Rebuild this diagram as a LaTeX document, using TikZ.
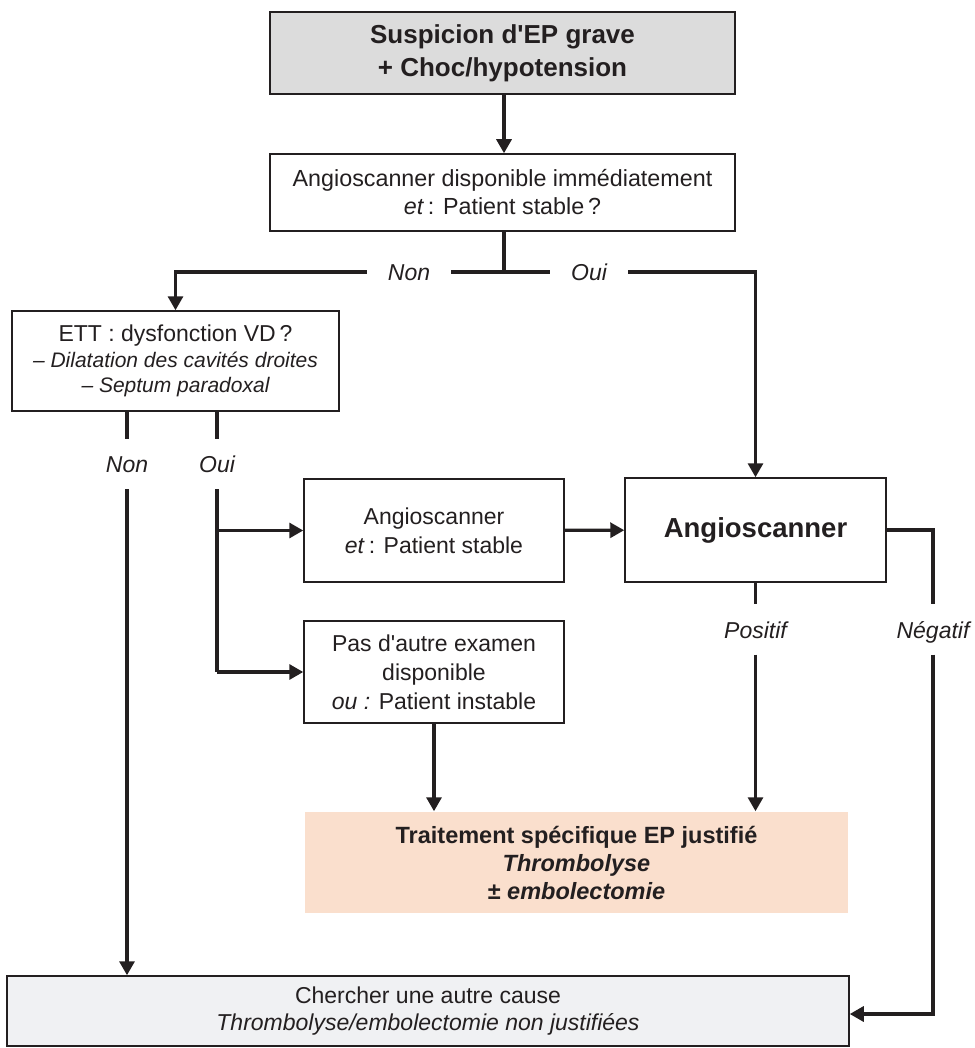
\documentclass[tikz,border=0pt]{standalone}
\usepackage{fontspec}
\setmainfont{Liberation Sans}
\usetikzlibrary{arrows.meta, positioning}
\definecolor{ink}{HTML}{231F20}
\definecolor{headgray}{HTML}{DCDCDC}
\definecolor{peach}{HTML}{FADFCD}
\definecolor{palegray}{HTML}{F0F1F3}
\newcommand{\WIRE}{3.2pt}
\newcommand{\fsz}[2]{\fontsize{#1}{#2}\selectfont}

\tikzset{
  box/.style={draw=ink, line width=1.5pt, align=center, inner sep=0pt, text=ink, font=\fsz{23}{29}},
  lbl/.style={text=ink, font=\fsz{23}{28}\itshape, inner xsep=21pt, inner ysep=16.5pt, text height=17pt, text depth=0pt},
  wire/.style={draw=ink, line width=\WIRE},
  arr/.style={wire, -{Triangle[length=14pt, width=15pt]}},
}

\begin{document}
\begin{tikzpicture}[x=1pt, y=-1pt]
    \useasboundingbox (0,0) rectangle (974,1048);

    % boites
    \node[box, fill=headgray, minimum width=465pt, minimum height=82pt, font=\fsz{26}{33}\bfseries] (q0) at (502.5,53)
        {Suspicion d\textquotesingle EP grave\\+ Choc/hypotension};
    \node[box, minimum width=465pt, minimum height=77pt, font=\fsz{23.3}{28}] (q1) at (502.5,192.5)
        {Angioscanner disponible immédiatement\\\textit{et}\,: Patient stable\,?};
    \node[box, minimum width=327pt, minimum height=100pt, font=\fsz{23}{25.5}] (ett) at (175.5,361)
        {ETT : dysfonction VD\,?\\{\fsz{21}{25.5}\itshape – Dilatation des cavités droites}\\{\fsz{21}{25.5}\itshape – Septum paradoxal}};
    \node[box, minimum width=260pt, minimum height=103pt] (a1) at (434,530.5)
        {Angioscanner\\\textit{et}\,: Patient stable};
    \node[box, minimum width=261pt, minimum height=104pt, font=\fsz{27.5}{34}\bfseries] (a2) at (755.5,530)
        {Angioscanner};
    \node[box, minimum width=260pt, minimum height=102pt] (pas) at (434,672)
        {Pas d\textquotesingle autre examen\\disponible\\\textit{ou :} Patient instable};
    \node[box, draw=none, fill=peach, minimum width=543pt, minimum height=101pt, font=\fsz{23.5}{28}\bfseries] (trt) at (576.5,862.5)
        {Traitement spécifique EP justifié\\\textit{Thrombolyse}\\± \textit{embolectomie}};
    \node[box, fill=palegray, minimum width=842pt, minimum height=70pt, font=\fsz{23}{27}] (cher) at (428,1011)
        {Chercher une autre cause\\\textit{Thrombolyse/embolectomie non justifiées}};

    % etiquettes
    \coordinate (split) at (504,272);
    \node[lbl] (nonA) at (409,272) {Non};
    \node[lbl] (ouiA) at (589,272) {Oui};
    \node[lbl] (nonB) at (127,464) {Non};
    \node[lbl] (ouiB) at (217,464) {Oui};
    \node[lbl] (pos) at (755.5,629.5) {Positif};
    \node[lbl] (neg) at (933,629.5) {Négatif};

    % liaisons
    \draw[arr] (q0.south -| split) -- (q1.north -| split);
    \draw[wire] (q1.south -| split) -- (split) -- (nonA.east);
    \draw[arr] (nonA.west) -| (ett.north);
    \draw[wire] (split) -- (ouiA.west);
    \draw[arr] (ouiA.east) -| (a2.north);

    \draw[wire] (ett.south -| nonB) -- (nonB.north);
    \draw[arr] (nonB.south) -- (cher.north -| nonB);
    \draw[wire] (ett.south -| ouiB) -- (ouiB.north);
    \draw[wire] (ouiB.south) -- (pas.west -| ouiB);
    \draw[arr] (a1.west -| ouiB) -- (a1.west);
    \draw[arr] (pas.west -| ouiB) -- (pas.west);

    \draw[arr] (a1) -- (a2);
    \draw[arr] (pas.south) -- (trt.north -| pas.south);
    \draw[wire] (a2.south) -- (pos.north);
    \draw[arr] (pos.south) -- (trt.north -| pos);
    \draw[wire] (a2.east) -| (neg.north);
    \draw[arr] (neg.south) |- ([yshift=-3pt]cher.east);
\end{tikzpicture}
\end{document}
